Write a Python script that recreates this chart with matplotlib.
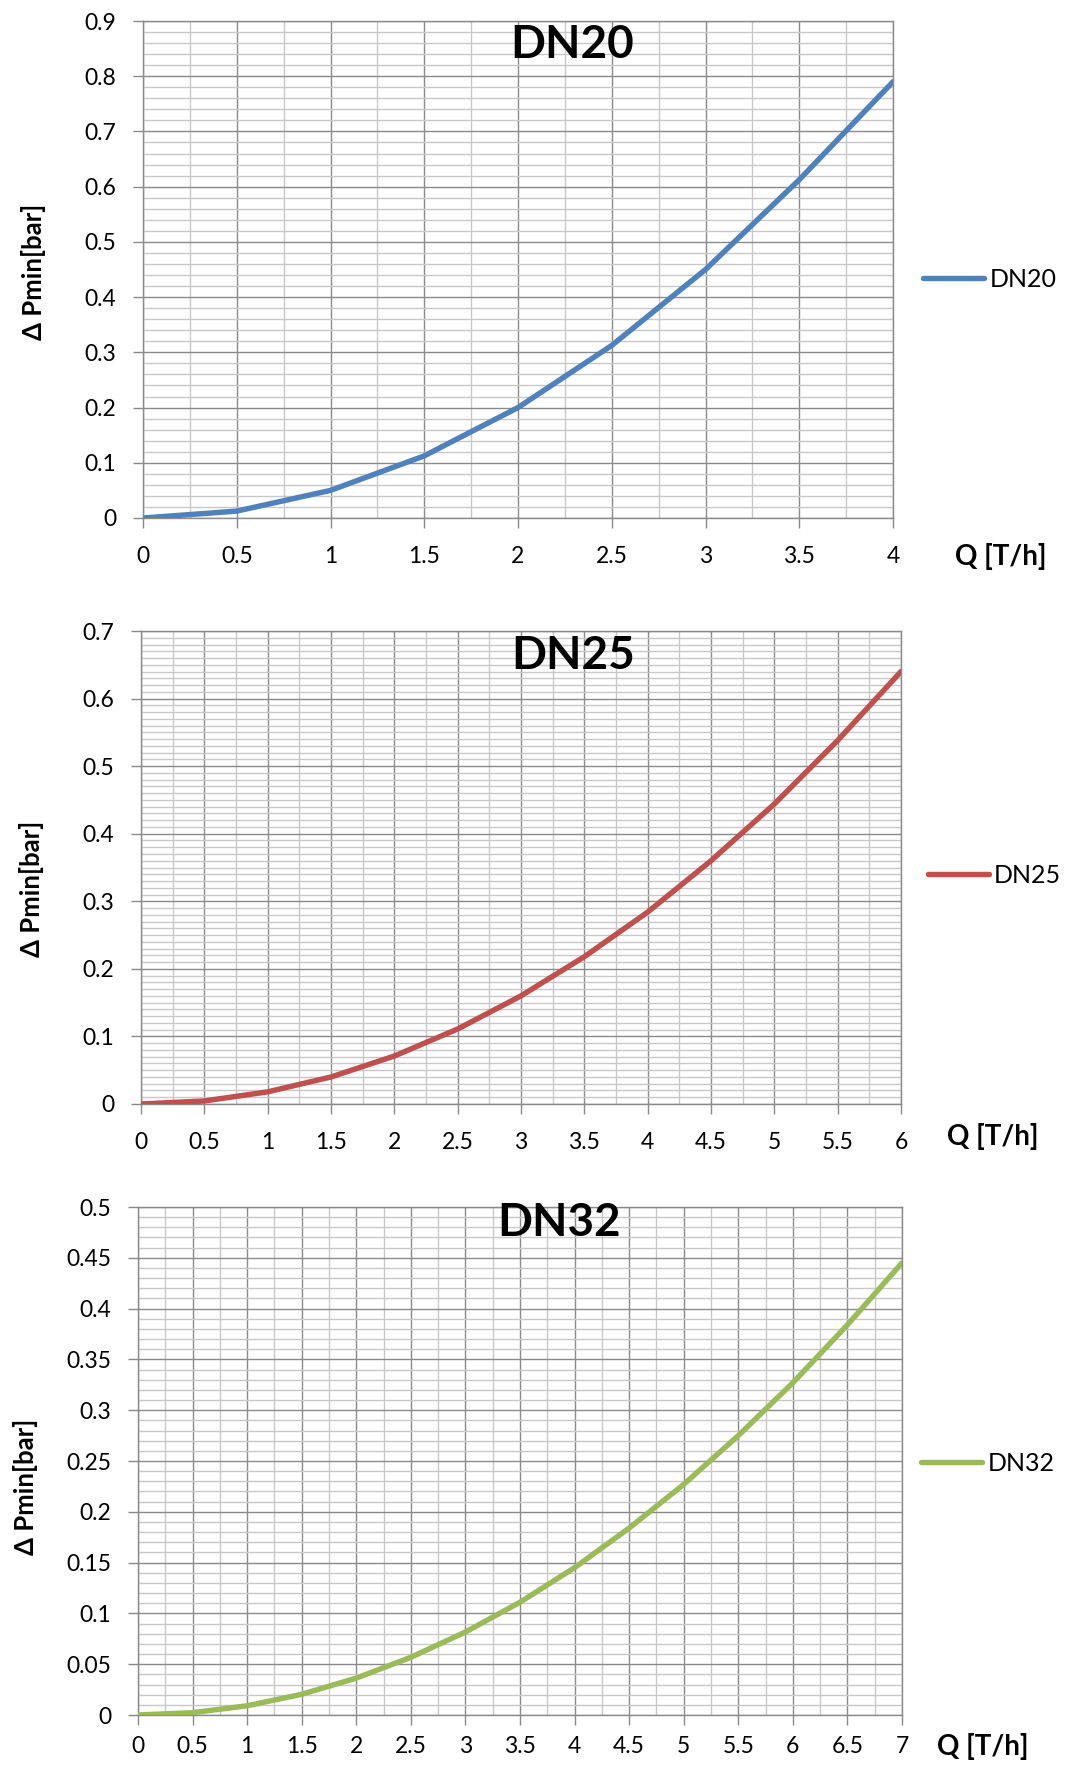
import matplotlib
matplotlib.use("Agg")
import matplotlib.pyplot as plt
from matplotlib.ticker import MultipleLocator

plt.rcParams['font.family'] = ['Lato', 'DejaVu Sans']

# ---- data ----
q20 = [0, 0.5, 1, 1.5, 2, 2.5, 3, 3.5, 4]
dp20 = [0, 0.0125, 0.05, 0.1125, 0.2, 0.3125, 0.45, 0.6125, 0.79]

q25 = [0, 0.5, 1, 1.5, 2, 2.5, 3, 3.5, 4, 4.5, 5, 5.5, 6]
dp25 = [0, 0.0045, 0.018, 0.04, 0.071, 0.111, 0.16, 0.218, 0.284, 0.36, 0.444, 0.538, 0.64]

q32 = [0, 0.5, 1, 1.5, 2, 2.5, 3, 3.5, 4, 4.5, 5, 5.5, 6, 6.5, 7]
dp32 = [0, 0.0023, 0.0091, 0.0204, 0.0363, 0.0568, 0.0817, 0.111, 0.145,
        0.184, 0.227, 0.275, 0.327, 0.384, 0.445]

names = ["DN20", "DN25", "DN32"]
colors = ["#4F81BD", "#C0504D", "#9BBB59"]
xlabel = "Q [T/h]"
ylabel = "\u0394 Pmin[bar]"

W, H = 1067, 1767
fig = plt.figure(figsize=(W / 100, H / 100), dpi=100)

def fx(x):
    return x / W

def fy(y):
    return 1 - y / H

# layout in pixels: left, right, top, bottom
boxes = [(143, 893, 21, 518), (141, 901, 631, 1104), (138, 902, 1207, 1715)]
xlims = [(0, 4), (0, 6), (0, 7)]
ylims = [(0, 0.9), (0, 0.7), (0, 0.5)]
ymajor = [0.1, 0.1, 0.05]
yminor = [0.02, 0.01, 0.01]
title_pos = [(572, 45), (573, 656), (559, 1223)]
ylab_pos = [(34, 272), (31, 889), (25, 1487)]
xlab_pos = [(955, 557), (947, 1137), (937, 1746)]
leg_pos = [(923, 279), (928, 875), (921, 1463)]
xpads = [13, 13, 8]
series = [(q20, dp20), (q25, dp25), (q32, dp32)]

major_c = "#8a8a8a"
minor_c = "#c8c8c8"

for i in range(3):
    l, r, t, b = boxes[i]
    ax = fig.add_axes([fx(l), fy(b), (r - l) / W, (b - t) / H])
    xs, ys = series[i]
    ax.plot(xs, ys, color=colors[i], lw=3.9, solid_capstyle='round',
            solid_joinstyle='round', label=names[i], zorder=5)
    ax.set_xlim(*xlims[i])
    ax.set_ylim(*ylims[i])
    ax.xaxis.set_major_locator(MultipleLocator(0.5))
    ax.xaxis.set_minor_locator(MultipleLocator(0.25))
    ax.yaxis.set_major_locator(MultipleLocator(ymajor[i]))
    ax.yaxis.set_minor_locator(MultipleLocator(yminor[i]))
    ax.grid(which='minor', color=minor_c, lw=1.0, zorder=0)
    ax.grid(which='major', color=major_c, lw=1.0, zorder=1)
    ax.set_axisbelow(True)
    for s in ax.spines.values():
        s.set_color(major_c)
        s.set_linewidth(1.0)
    ax.tick_params(which='major', length=7.2, width=1.0, color=major_c,
                   labelsize=16.5, direction='out')
    ax.tick_params(axis='y', pad=12)
    ax.tick_params(axis='x', pad=xpads[i])
    ax.tick_params(which='minor', length=0)
    ax.xaxis.set_major_formatter(plt.FuncFormatter(lambda v, p: f"{v:g}"))
    ax.yaxis.set_major_formatter(plt.FuncFormatter(lambda v, p: f"{round(v, 3):g}"))

    tx, ty = title_pos[i]
    fig.text(fx(tx), fy(ty), names[i], fontsize=33, fontweight='bold',
             ha='center', va='center')
    yx, yy = ylab_pos[i]
    fig.text(fx(yx), fy(yy), ylabel, fontsize=18.5, fontweight='bold',
             rotation=90, ha='center', va='center')
    qx, qy = xlab_pos[i]
    fig.text(fx(qx), fy(qy), xlabel, fontsize=20, fontweight='bold',
             ha='left', va='center')
    lx, ly = leg_pos[i]
    ax.legend(loc='center left', bbox_to_anchor=(fx(lx), fy(ly)),
              bbox_transform=fig.transFigure, frameon=False, fontsize=18,
              handlelength=2.45, handletextpad=0.2, borderpad=0,
              borderaxespad=0)

fig.savefig("out.png", dpi=100)
